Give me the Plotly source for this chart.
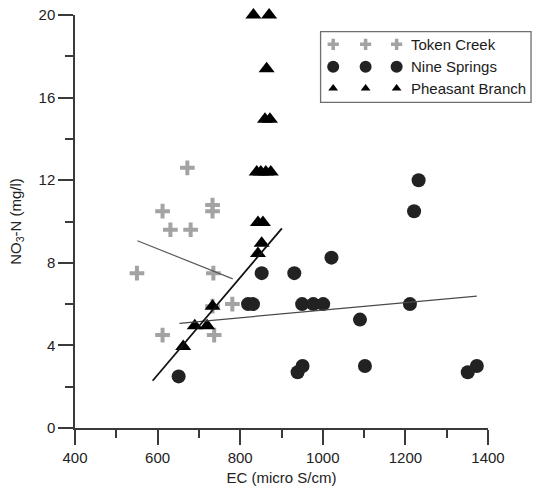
import plotly.graph_objects as go

# --- measurements: EC (micro S/cm) vs NO3-N (mg/l) ---
token_ec = [550, 612, 612, 631, 672, 680, 733, 733, 733, 735, 737, 781]
token_no3 = [7.5, 10.5, 4.5, 9.6, 12.6, 9.6, 10.8, 10.5, 5.9, 7.5, 4.5, 6.0]

nine_ec = [651, 819, 831, 852, 931, 939, 950, 951, 977, 1001, 1021, 1090,
           1102, 1211, 1221, 1232, 1351, 1373]
nine_no3 = [2.5, 6.0, 6.0, 7.5, 7.5, 2.7, 6.0, 3.0, 6.0, 6.0, 8.25, 5.25,
            3.0, 6.0, 10.5, 12.0, 2.7, 3.0]

pheasant_ec = [662, 690, 720, 733, 843, 852, 843, 855, 840, 850, 862, 874,
               860, 872, 864, 832, 870]
pheasant_no3 = [3.95, 4.95, 4.95, 5.9, 8.45, 8.95, 9.95, 9.95, 12.4, 12.4,
                12.4, 12.4, 14.95, 14.95, 17.4, 20, 20]

# linear fits (end points of each regression line)
token_fit_ec = [551, 782]
token_fit_no3 = [9.07, 7.22]
nine_fit_ec = [653, 1373]
nine_fit_no3 = [5.07, 6.39]
pheasant_fit_ec = [588, 901]
pheasant_fit_no3 = [2.29, 9.67]

x_ticks = [400, 600, 800, 1000, 1200, 1400]
y_ticks = [0, 4, 8, 12, 16, 20]

series_names = ["Token Creek", "Nine Springs", "Pheasant Branch"]

W, H = 534, 490
ML, MR, MT, MB = 75.3, 46, 15, 62
FONT = "Arial, Liberation Sans, sans-serif"

GRAY = "#a3a3a3"
DARK = "#222222"
BLACK = "#000000"

cross_style = dict(symbol="cross-thin", size=10.5, color=GRAY,
                   line=dict(color=GRAY, width=4))
circle_style = dict(symbol="circle", size=14, color=DARK, line=dict(width=0))
tri_style = dict(symbol="triangle-up", size=14, color=BLACK, line=dict(width=0))

fig = go.Figure()

fig.add_trace(go.Scatter(x=token_ec, y=token_no3, mode="markers",
                         marker=cross_style, cliponaxis=False, showlegend=False))
fig.add_trace(go.Scatter(x=nine_ec, y=nine_no3, mode="markers",
                         marker=circle_style, cliponaxis=False, showlegend=False))
fig.add_trace(go.Scatter(x=pheasant_ec, y=pheasant_no3, mode="markers",
                         marker=tri_style, cliponaxis=False, showlegend=False))

fig.add_trace(go.Scatter(x=token_fit_ec, y=token_fit_no3, mode="lines",
                         line=dict(color="#5a5a5a", width=1.2), showlegend=False))
fig.add_trace(go.Scatter(x=nine_fit_ec, y=nine_fit_no3, mode="lines",
                         line=dict(color="#4a4a4a", width=1.2), showlegend=False))
fig.add_trace(go.Scatter(x=pheasant_fit_ec, y=pheasant_fit_no3, mode="lines",
                         line=dict(color="#111111", width=1.8), showlegend=False))

# --- hand-drawn legend on a pixel-unit overlay axis ---
leg_rows = [44.3, 66.7, 88.3]
leg_cols = [333.3, 365.7, 396.7]
leg_styles = [
    dict(symbol="cross-thin", size=8, color=GRAY, line=dict(color=GRAY, width=3.5)),
    dict(symbol="circle", size=12, color=DARK, line=dict(width=0)),
    dict(symbol="triangle-up", size=8.5, color=BLACK, line=dict(width=0)),
]
for row_y, style, name in zip(leg_rows, leg_styles, series_names):
    fig.add_trace(go.Scatter(x=leg_cols, y=[row_y] * 3, mode="markers",
                             marker=style, xaxis="x2", yaxis="y2",
                             cliponaxis=False, showlegend=False,
                             hoverinfo="skip"))
    fig.add_annotation(x=409, y=row_y, xref="x2", yref="y2", text=name,
                       showarrow=False, xanchor="left", yanchor="middle",
                       font=dict(family=FONT, size=15, color="#1a1a1a"))


def px_to_paper_x(px):
    return (px - ML) / (W - ML - MR)


def px_to_paper_y(py):
    return 1 - (py - MT) / (H - MT - MB)


fig.add_shape(type="rect", xref="paper", yref="paper",
              x0=px_to_paper_x(320.7), x1=px_to_paper_x(531),
              y0=px_to_paper_y(102.3), y1=px_to_paper_y(31.7),
              line=dict(color="#6e6e6e", width=1.3), fillcolor="rgba(0,0,0,0)")

axis_common = dict(showgrid=False, zeroline=False, showline=True,
                   linecolor="#3a3a3a", linewidth=1.5, ticks="outside",
                   ticklen=15, tickwidth=1.5, tickcolor="#3a3a3a",
                   tickfont=dict(family=FONT, size=15, color="#222222"),
                   mirror=False, automargin=False)

fig.update_layout(
    width=W, height=H,
    margin=dict(l=ML, r=MR, t=MT, b=MB, autoexpand=False),
    paper_bgcolor="white", plot_bgcolor="white",
    font=dict(family=FONT, color="#222222"),
    xaxis=dict(axis_common, range=[400, 1400], tickvals=x_ticks,
               minor=dict(ticks="outside", ticklen=8, tickwidth=1.5,
                          tickcolor="#3a3a3a", dtick=100, tick0=400),
               title=dict(text="EC (micro S/cm)", standoff=8,
                          font=dict(family=FONT, size=15, color="#222222"))),
    yaxis=dict(axis_common, range=[0, 20], tickvals=y_ticks,
               minor=dict(ticks="outside", ticklen=8, tickwidth=1.5,
                          tickcolor="#3a3a3a", dtick=2, tick0=0),
               title=dict(text="NO<sub>3</sub>-N (mg/l)", standoff=13,
                          font=dict(family=FONT, size=15, color="#222222"))),
    xaxis2=dict(overlaying="x", range=[ML, W - MR], visible=False,
                fixedrange=True),
    yaxis2=dict(overlaying="y", range=[H - MB, MT], visible=False,
                fixedrange=True),
)

fig.write_html("out.html")
